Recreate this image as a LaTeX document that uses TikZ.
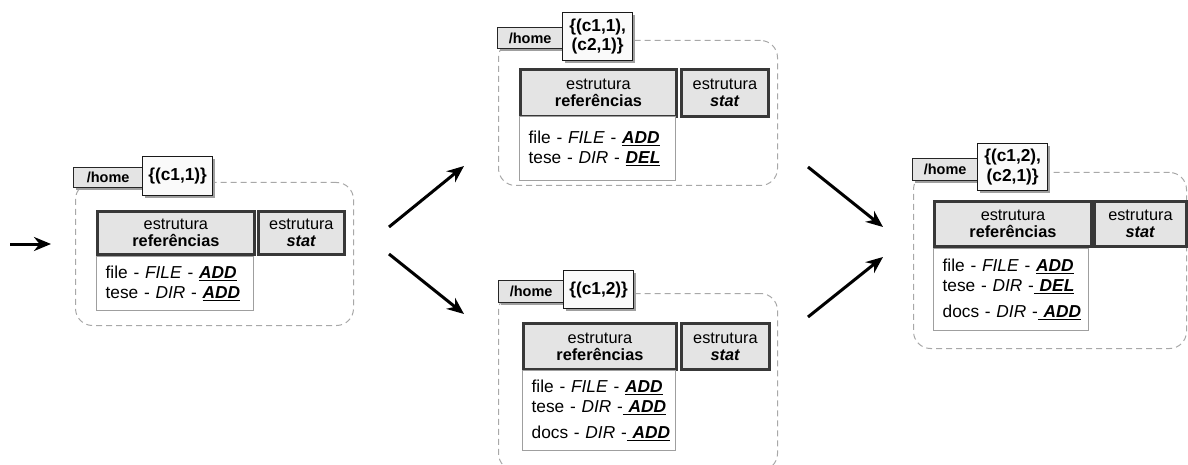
\documentclass[tikz,border=0pt]{standalone}
\usepackage{fontspec}
\setmainfont{Liberation Sans}
\usetikzlibrary{arrows.meta,shadows}

% bold italic keyword with a thick underline
\newcommand\kw[1]{\setbox0\hbox{\textbf{\textit{#1}}}\rlap{\rule[-3pt]{\wd0}{1.7pt}}\box0}
% one unbreakable line of a listing
\newcommand\entry[1]{\mbox{#1}}

\definecolor{boxgray}{HTML}{E4E4E4}
\definecolor{panelgray}{HTML}{A8A8A8}

\tikzset{
  panel/.style={draw=panelgray, line width=1pt, dash pattern=on 6pt off 4pt,
    rounded corners=17pt, anchor=north west, inner sep=0pt},
  tabbox/.style={anchor=north west, fill=boxgray, draw=black!85, line width=1.3pt,
    inner sep=0pt, font=\fontsize{14.5}{16}\selectfont\bfseries,
    drop shadow={shadow xshift=2.5pt, shadow yshift=-2.5pt, fill=gray!75, opacity=1}},
  valbox/.style={anchor=north west, fill=gray!4, draw=black!90, line width=1.3pt,
    inner sep=0pt, align=center, font=\fontsize{17.3}{19.5}\selectfont\bfseries,
    drop shadow={shadow xshift=2.5pt, shadow yshift=-2.5pt, fill=gray!75, opacity=1}},
  refbox/.style={anchor=north west, fill=boxgray, draw=black!78, line width=2.8pt,
    inner sep=0pt, align=center, font=\fontsize{16.3}{17}\selectfont},
  listbox/.style={anchor=north west, fill=white, draw=gray!75, line width=1.3pt,
    inner xsep=9pt, inner ysep=0pt, align=left, font=\fontsize{17.3}{20}\selectfont},
  flow/.style={line width=3pt, -{Stealth[length=17pt,width=14pt]}}
}

\begin{document}
\begin{tikzpicture}[x=1pt,y=-1pt]
\useasboundingbox (0,0) rectangle (1188,465);
\clip (0,0) rectangle (1188,465);

% ---------- state 1 ----------
\node[panel, minimum width=278pt, minimum height=143pt] (p1) at (75,182) {};
\node[tabbox, minimum width=69pt, minimum height=20pt] (t1) at (73,167) {/home};
\node[valbox, minimum width=70pt, minimum height=39pt] (v1) at (142,156) {\{(c1,1)\}};
\node[refbox, minimum width=157pt, minimum height=43pt] (r1) at (96,210) {estrutura\\\textbf{referências}};
\node[refbox, minimum width=86pt, minimum height=43pt] (s1) at (257,210) {estrutura\\\textbf{\textit{stat}}};
\node[listbox, minimum height=54pt, text width=139pt] (l1) at (96,256)
  {\entry{file - \textit{FILE} - \kw{ADD}}\\\entry{tese - \textit{DIR} - \kw{ADD}}};

% ---------- state 2 (upper) ----------
\node[panel, minimum width=279pt, minimum height=145pt] (p2) at (498,40) {};
\node[tabbox, minimum width=65pt, minimum height=21pt] (t2) at (497,27) {/home};
\node[valbox, minimum width=70pt, minimum height=48pt] (v2) at (562,12) {\{(c1,1),\\(c2,1)\}};
\node[refbox, minimum width=156pt, minimum height=47pt] (r2) at (519,68) {estrutura\\\textbf{referências}};
\node[refbox, minimum width=87pt, minimum height=47pt] (s2) at (680,68) {estrutura\\\textbf{\textit{stat}}};
\node[listbox, minimum height=64pt, text width=138pt] (l2) at (519,116)
  {\entry{file - \textit{FILE} - \kw{ADD}}\\\entry{tese - \textit{DIR} - \kw{DEL}}\\[4pt]};

% ---------- state 2 (lower) ----------
\node[panel, minimum width=279pt, minimum height=177pt] (p3) at (498,293) {};
\node[tabbox, minimum width=65pt, minimum height=22pt] (t3) at (498,280) {/home};
\node[valbox, minimum width=70pt, minimum height=38pt] (v3) at (563,270) {\{(c1,2)\}};
\node[refbox, minimum width=153pt, minimum height=46pt] (r3) at (522,322) {estrutura\\\textbf{referências}};
\node[refbox, minimum width=88pt, minimum height=46pt] (s3) at (680,322) {estrutura\\\textbf{\textit{stat}}};
\node[listbox, minimum height=80pt, text width=135pt] (l3) at (522,370)
  {\entry{file - \textit{FILE} - \kw{ADD}}\\\entry{tese - \textit{DIR} -\kw{\ ADD}}\\[6pt]\entry{docs - \textit{DIR} -\kw{\ ADD}}};

% ---------- state 3 ----------
\node[panel, minimum width=273pt, minimum height=176pt] (p4) at (913,172) {};
\node[tabbox, minimum width=65pt, minimum height=22pt] (t4) at (912,158) {/home};
\node[valbox, minimum width=70pt, minimum height=47pt] (v4) at (977,143) {\{(c1,2),\\(c2,1)\}};
\node[refbox, minimum width=157pt, minimum height=45pt] (r4) at (933,200) {estrutura\\\textbf{referências}};
\node[refbox, minimum width=92pt, minimum height=45pt] (s4) at (1093,200) {estrutura\\\textbf{\textit{stat}}};
\node[listbox, minimum height=82pt, text width=137pt] (l4) at (933,248)
  {\entry{file - \textit{FILE} - \kw{ADD}}\\\entry{tese - \textit{DIR} -\kw{\ DEL}}\\[6pt]\entry{docs - \textit{DIR} -\kw{\ ADD}}};

% ---------- transitions ----------
\coordinate (in0) at (10,244);  \coordinate (in1) at (51,244);
\coordinate (a1) at (389,227);  \coordinate (a2) at (464,166);
\coordinate (b1) at (389,254);  \coordinate (b2) at (464,314);
\coordinate (c1) at (808,167);  \coordinate (c2) at (883,227);
\coordinate (d1) at (808,317);  \coordinate (d2) at (883,257);
\draw[flow] (in0) -- (in1);
\draw[flow] (a1) -- (a2);
\draw[flow] (b1) -- (b2);
\draw[flow] (c1) -- (c2);
\draw[flow] (d1) -- (d2);
\end{tikzpicture}
\end{document}
